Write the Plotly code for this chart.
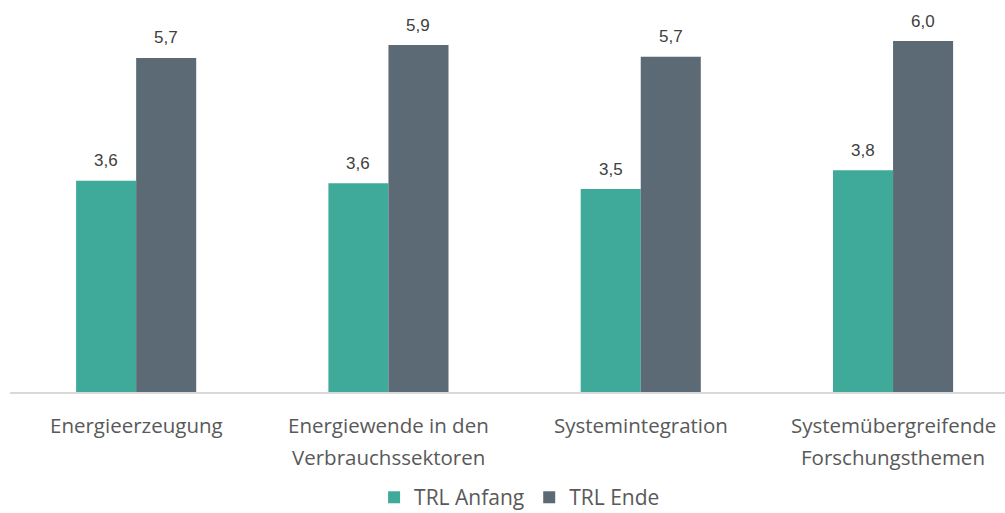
import plotly.graph_objects as go

categories = ["Energieerzeugung", "Energiewende in den Verbrauchssektoren",
              "Systemintegration", "Systemübergreifende Forschungsthemen"]
tick_lines = [["Energieerzeugung"],
              ["Energiewende in den", "Verbrauchssektoren"],
              ["Systemintegration"],
              ["Systemübergreifende", "Forschungsthemen"]]
series_names = ["TRL Anfang", "TRL Ende"]
trl_anfang = [3.61, 3.57, 3.47, 3.79]
trl_ende = [5.71, 5.93, 5.73, 6.00]
colors = ["#3FAA9A", "#5B6A74"]

W, H = 1005, 513
ML, MR, MT, MB = 10, 0, 10, 121
px_per_cat = 252.3
plot_w = W - ML - MR
x_max = -0.5 + plot_w / px_per_cat
y_max = (H - MT - MB) / 58.5

fig = go.Figure()
for name, vals, col in zip(series_names, [trl_anfang, trl_ende], colors):
    fig.add_trace(go.Bar(x=list(range(len(categories))), y=vals, name=name,
                         marker=dict(color=col, line=dict(width=0)),
                         hoverinfo="skip"))

annotations = []
bar_off = [-30, 30]
for s, vals in enumerate([trl_anfang, trl_ende]):
    for i, v in enumerate(vals):
        annotations.append(dict(x=i, y=v, xref="x", yref="y",
                                text=f"{v:.1f}".replace(".", ","),
                                showarrow=False, xshift=bar_off[s], yshift=20,
                                yanchor="middle",
                                font=dict(family="Liberation Sans", size=17, color="#404040")))
for i, lines in enumerate(tick_lines):
    for j, line in enumerate(lines):
        annotations.append(dict(x=i, y=0, xref="x", yref="paper", text=line,
                                showarrow=False, yanchor="middle",
                                yshift=-33 - 32 * j,
                                font=dict(family="Open Sans", size=20.5, color="#595959")))

fig.update_layout(
    width=W, height=H,
    margin=dict(l=ML, r=MR, t=MT, b=MB, autoexpand=False),
    paper_bgcolor="white", plot_bgcolor="white",
    barmode="group", bargap=0.524, bargroupgap=0,
    showlegend=True,
    legend=dict(orientation="h", xref="container", yref="container",
                x=0.517, xanchor="center", y=0.03, yanchor="middle",
                font=dict(family="Open Sans", size=21, color="#595959"),
                itemsizing="constant", traceorder="normal",
                itemwidth=30, tracegroupgap=0),
    xaxis=dict(range=[-0.5, x_max], showticklabels=False, ticks="",
               showgrid=False, zeroline=False, showline=True,
               linecolor="#D9D9D9", linewidth=1.5, fixedrange=True),
    yaxis=dict(range=[0, y_max], visible=False, showgrid=False, zeroline=False,
               fixedrange=True),
)
fig.update_layout(annotations=annotations)
fig.write_html("out.html", config={"displayModeBar": False, "staticPlot": True},
               post_script="document.body.style.margin='0';document.body.style.overflow='hidden';")
